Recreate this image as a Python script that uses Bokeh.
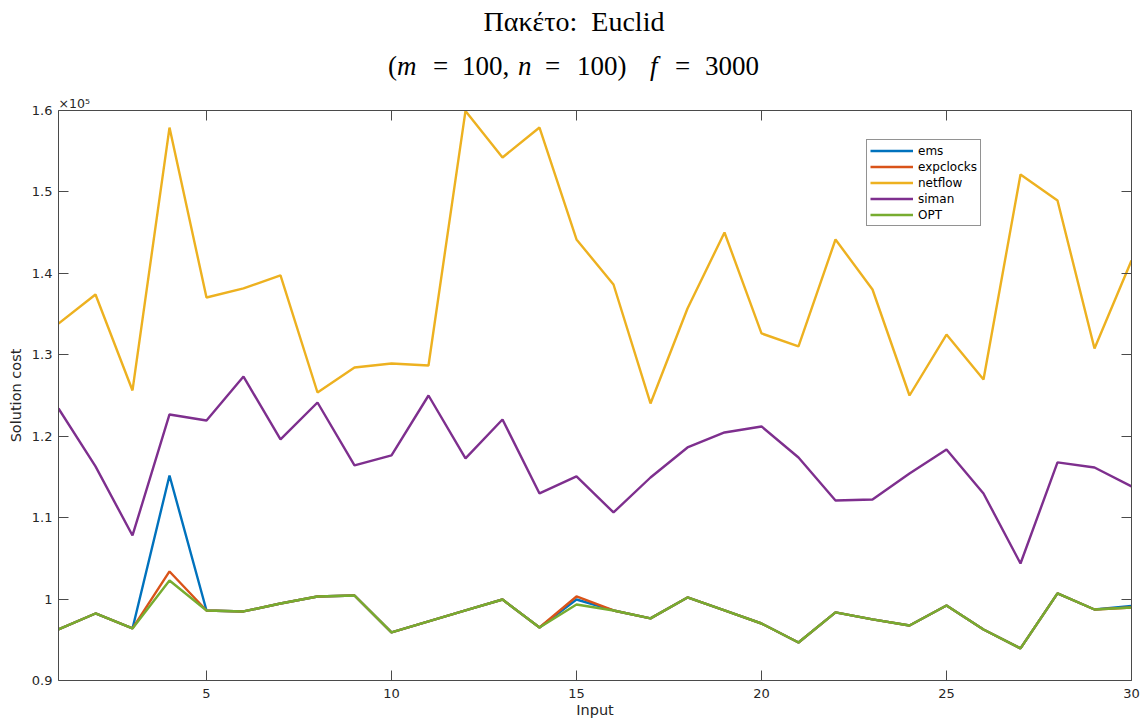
from bokeh.plotting import figure
from bokeh.layouts import column
from bokeh.models import (LinearAxis, FixedTicker, Range1d, Legend, LegendItem,
                          ColumnDataSource, Div)
from bokeh.embed import file_html
from bokeh.resources import INLINE

# ---- data -------------------------------------------------------------
inputs = list(range(1, 31))

ems = [96270, 98230, 96390, 115180, 98600, 98480, 99460, 100320, 100440, 95900,
       97250, 98600, 99950, 96510, 99950, 98600, 97630, 100200, 98600, 97000,
       94670, 98360, 97500, 96760, 99210, 96270, 93940, 100690, 98720, 99150]

expclocks = [96270, 98230, 96390, 103390, 98600, 98480, 99460, 100320, 100440, 95900,
             97250, 98600, 99950, 96510, 100320, 98600, 97630, 100200, 98600, 97000,
             94670, 98360, 97500, 96760, 99210, 96270, 93940, 100690, 98720, 98970]

netflow = [133840, 137400, 125620, 157900, 137040, 138150, 139740, 125370, 128440, 128930,
           128690, 159950, 154230, 157910, 144160, 138630, 124020, 135690, 145020, 132620,
           131020, 144160, 138020, 125000, 132490, 126970, 152140, 148950, 130770, 141580]

siman = [123410, 116290, 107810, 122670, 121930, 127330, 119600, 124140, 116410, 117640,
         125000, 117270, 122050, 112970, 115060, 110640, 114930, 118620, 120460, 121200,
         117390, 112110, 112230, 115420, 118370, 112970, 104370, 116780, 116160, 113830]

opt = [96270, 98230, 96390, 102280, 98600, 98480, 99460, 100320, 100440, 95900,
       97250, 98600, 99950, 96510, 99340, 98600, 97630, 100200, 98600, 97000,
       94670, 98360, 97500, 96760, 99210, 96270, 93940, 100690, 98720, 98970]

series_names = ["ems", "expclocks", "netflow", "siman", "OPT"]
series_colors = ["#0072BD", "#D95319", "#EDB120", "#7E2F8E", "#77AC30"]

x_ticks = [5, 10, 15, 20, 25, 30]
y_ticks = [90000, 100000, 110000, 120000, 130000, 140000, 150000, 160000]
y_tick_labels = ["0.9", "1", "1.1", "1.2", "1.3", "1.4", "1.5", "1.6"]

# ---- sizes / styles ---------------------------------------------------
W = 1143
HEAD = 88            # height of the two-line heading block
PH = 722 - HEAD      # height of the plot canvas
L, R, T, B = 58, 12, 22, 42
AX = "#4a4a4a"
TXT = "#262626"
SANS = "DejaVu Sans"
SERIF = "Liberation Serif"

# ---- heading: "Πακέτο: Euclid" / "(m = 100, n = 100)   f = 3000" -------
def piece(text, left, baseline, size, italic=False, width=None, center=False):
    top = baseline - 0.8375 * size
    style = (f"position:absolute;left:{left}px;top:{top:.1f}px;"
             f"font-family:'{SERIF}',serif;"
             f"font-size:{size}px;line-height:{size}px;white-space:nowrap;")
    if italic:
        style += "font-style:italic;"
    if width is not None:
        style += f"width:{width}px;"
    if center:
        style += "text-align:center;"
    return f'<span style="{style}">{text}</span>'

head_parts = [
    piece("\u03a0\u03b1\u03ba\u03ad\u03c4\u03bf:&nbsp; Euclid", 374, 31, 28,
          width=400, center=True),
    piece("(", 388, 76, 27),
    piece("m", 397, 76, 27, italic=True),
    piece("=", 433, 76, 27),
    piece("100,", 462, 76, 27),
    piece("n", 518, 76, 27, italic=True),
    piece("=", 545, 76, 27),
    piece("100)", 577, 76, 27),
    piece("f", 650, 76, 27, italic=True),
    piece("=", 675, 76, 27),
    piece("3000", 705, 76, 27),
]
head_html = (f'<div style="position:relative;width:{W}px;height:{HEAD}px;'
             f'color:#000;background:#fff;">' + "".join(head_parts) + "</div>")
head = Div(text=head_html, width=W, height=HEAD, margin=0)

# ---- figure -----------------------------------------------------------
p = figure(width=W, height=PH, output_backend="svg", toolbar_location=None,
           title="\u00d710\u2075",
           x_range=Range1d(1, 30), y_range=Range1d(90000, 160000),
           min_border_left=L, min_border_right=R, min_border_top=T,
           min_border_bottom=B, x_axis_location=None, y_axis_location=None,
           margin=0)
p.xgrid.visible = False
p.ygrid.visible = False
p.outline_line_color = None
p.background_fill_color = "white"
p.border_fill_color = "white"

# exponent marker sits at the top-left corner of the axes
p.title.align = "left"
p.title.offset = 0
p.title.standoff = 0
p.title.text_font = SANS
p.title.text_font_size = "12.5px"
p.title.text_font_style = "normal"
p.title.text_color = TXT

def style_axis(ax, labels=True):
    ax.axis_line_color = AX
    ax.axis_line_width = 1
    ax.major_tick_line_color = AX
    ax.major_tick_in = 10
    ax.major_tick_out = 0
    ax.minor_tick_line_color = None
    ax.major_label_text_font = SANS
    ax.major_label_text_font_size = "13px"
    ax.major_label_text_color = TXT
    ax.axis_label_text_font = SANS
    ax.axis_label_text_font_size = "14.5px"
    ax.axis_label_text_font_style = "normal"
    ax.axis_label_text_color = TXT
    if not labels:
        # tick marks only (box edges), no numbers
        ax.major_label_text_font_size = "0px"
        ax.major_label_text_color = None
        ax.major_label_standoff = 0

xb = LinearAxis(ticker=FixedTicker(ticks=x_ticks), axis_label="Input")
style_axis(xb)
xb.major_label_standoff = 8
xb.axis_label_standoff = 1
p.add_layout(xb, "below")

xt = LinearAxis(ticker=FixedTicker(ticks=x_ticks))
style_axis(xt, labels=False)
p.add_layout(xt, "above")

yl = LinearAxis(ticker=FixedTicker(ticks=y_ticks), axis_label="Solution cost")
style_axis(yl)
yl.major_label_overrides = {t: s for t, s in zip(y_ticks, y_tick_labels)}
yl.major_label_standoff = 6
yl.axis_label_standoff = 5
p.add_layout(yl, "left")

yr = LinearAxis(ticker=FixedTicker(ticks=y_ticks))
style_axis(yr, labels=False)
p.add_layout(yr, "right")

# ---- lines ------------------------------------------------------------
src = ColumnDataSource(dict(x=inputs, ems=ems, expclocks=expclocks,
                            netflow=netflow, siman=siman, OPT=opt))
items = []
for name, col in zip(series_names, series_colors):
    r = p.line("x", name, source=src, line_color=col, line_width=2.4)
    items.append(LegendItem(label=name, renderers=[r]))

legend = Legend(items=items, location=(808, 454), orientation="vertical",
                glyph_width=43, glyph_height=15, label_height=15, spacing=1,
                padding=3, margin=0, label_standoff=5,
                label_text_font=SANS, label_text_font_size="12px",
                label_text_color="black",
                border_line_color=TXT, border_line_width=1,
                background_fill_color="white", background_fill_alpha=1)
p.add_layout(legend, "center")

page = column(head, p, spacing=0, margin=0)
open("out.html", "w").write(file_html(page, INLINE))
